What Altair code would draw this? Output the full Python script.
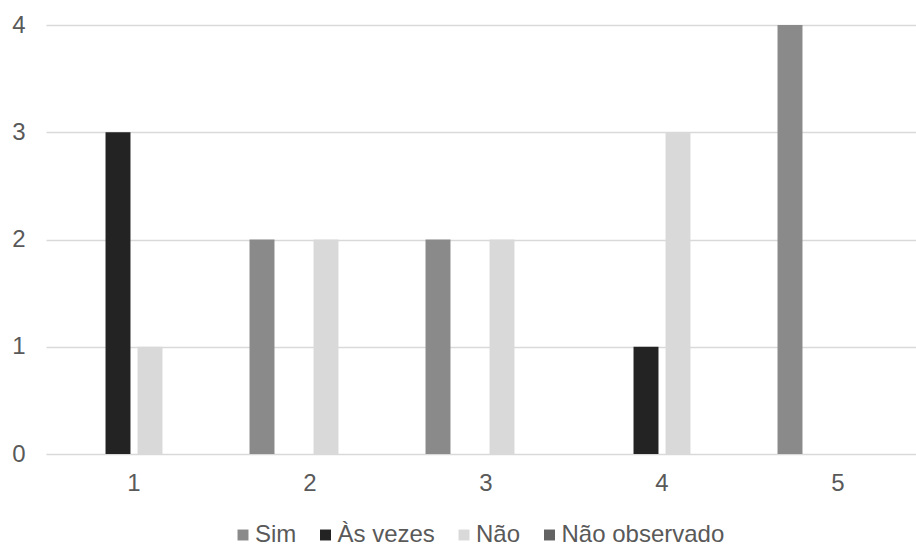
import altair as alt
import pandas as pd

# Categories on the x axis and the four answer series
categories = ["1", "2", "3", "4", "5"]
series = ["Sim", "Às vezes", "Não", "Não observado"]
sim = [0, 2, 2, 0, 4]
as_vezes = [3, 0, 0, 1, 0]
nao = [1, 2, 2, 3, 0]
nao_observado = [0, 0, 0, 0, 0]
colors = ["#8a8a8a", "#232323", "#d9d9d9", "#636363"]

rows = []
for name, values in zip(series, [sim, as_vezes, nao, nao_observado]):
    for cat, v in zip(categories, values):
        rows.append({"categoria": cat, "serie": name, "valor": v})
df = pd.DataFrame(rows)

FONT = "Liberation Sans"
TEXT = "#595959"
SIZE = 24

chart = (
    alt.Chart(df)
    .mark_bar()
    .encode(
        x=alt.X(
            "categoria:N",
            sort=categories,
            scale=alt.Scale(range=[0, 880], paddingInner=0, paddingOuter=0),
            axis=alt.Axis(
                title=None, labelAngle=0, ticks=False, domain=False,
                labelFont=FONT, labelFontSize=SIZE, labelColor=TEXT, labelPadding=17,
            ),
        ),
        xOffset=alt.XOffset(
            "serie:N", sort=series,
            scale=alt.Scale(paddingInner=0.22, paddingOuter=0.86),
        ),
        y=alt.Y(
            "valor:Q",
            scale=alt.Scale(domain=[0, 4], nice=False),
            axis=alt.Axis(
                title=None, values=[0, 1, 2, 3, 4], format="d", ticks=False, domain=False,
                labelFont=FONT, labelFontSize=SIZE, labelColor=TEXT, labelPadding=21,
                gridColor="#d9d9d9", gridWidth=1.5,
            ),
        ),
        color=alt.Color(
            "serie:N",
            sort=series,
            scale=alt.Scale(domain=series, range=colors),
            legend=alt.Legend(
                title=None, orient="none", direction="horizontal",
                legendX=185, legendY=498,
                symbolType="square", symbolSize=120, symbolStrokeWidth=0,
                labelFont=FONT, labelFontSize=SIZE, labelColor=TEXT, labelLimit=400,
                labelOffset=0, columnPadding=16.5,
            ),
        ),
    )
    .properties(
        width=870,
        height=429,
        autosize=alt.AutoSizeParams(type="none"),
        padding={"left": 46, "top": 25, "right": 0, "bottom": 92},
    )
    .configure_view(stroke=None)
)

chart.save("out.html", embed_options={"renderer": "svg", "actions": False})
